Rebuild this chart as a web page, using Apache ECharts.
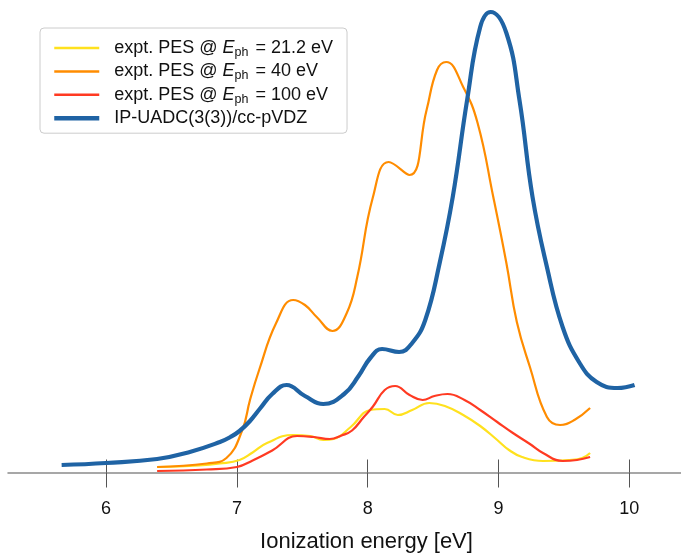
<!DOCTYPE html>
<html>
<head>
<meta charset="utf-8">
<script src="https://cdn.jsdelivr.net/npm/echarts@6/dist/echarts.min.js"></script>
<style>
html,body{margin:0;padding:0;background:#fff;}
#chart{width:681px;height:553px;}
</style>
</head>
<body>
<div id="chart"></div>
<script>
// Ionization energy (eV) and intensity (arbitrary units)
const seriesNames = [
  'expt. PES @ Eph = 21.2 eV',
  'expt. PES @ Eph = 40 eV',
  'expt. PES @ Eph = 100 eV',
  'IP-UADC(3(3))/cc-pVDZ'
];
const legendLabels = [
  '{f|expt. PES @ }{i|E}{s|ph}{n| = 21.2 eV}',
  '{f|expt. PES @ }{i|E}{s|ph}{n| = 40 eV}',
  '{f|expt. PES @ }{i|E}{s|ph}{n| = 100 eV}',
  '{f|IP-UADC(3(3))/cc-pVDZ}'
];
const xTicks = [6, 7, 8, 9, 10];

const yellowX = [6.39,6.71,6.87,7.02,7.12,7.23,7.43,7.56,7.66,7.74,7.87,8.02,8.13,8.23,8.34,8.47,8.59,8.73,8.86,8.99,9.08,9.18,9.34,9.54,9.64,9.70];
const yellowY = [5.5,7.0,9.0,12.5,20.0,29.5,37.5,36.5,32.5,33.5,45.5,62.5,63.5,57.5,62.5,69.5,66.5,57.5,46.5,32.5,22.5,15.5,11.5,12.5,14.5,19.5];

const orangeX = [6.39,6.77,6.92,7.04,7.10,7.17,7.30,7.43,7.52,7.61,7.73,7.84,7.92,8.04,8.16,8.32,8.45,8.53,8.60,8.73,8.84,8.96,9.06,9.14,9.24,9.37,9.47,9.58,9.70];
const orangeY = [5.5,9.0,14.5,42.0,72.5,102.5,149.5,172.5,167.5,155.5,141.5,159.5,195.5,275.5,310.5,297.5,362.5,402.5,410.5,385.5,349.5,275.5,209.5,150.5,105.5,55.5,47.5,52.5,64.5];

const redX = [6.39,6.77,7.00,7.12,7.27,7.46,7.59,7.71,7.80,7.88,7.97,8.04,8.13,8.21,8.32,8.42,8.51,8.61,8.74,8.86,8.99,9.11,9.24,9.34,9.49,9.60,9.70];
const redY = [1.5,3.0,5.5,12.0,22.0,36.5,35.5,33.5,37.0,42.0,55.5,66.0,82.5,86.5,77.5,72.5,76.5,78.5,72.5,62.5,50.5,39.5,28.5,19.5,11.5,12.5,15.5];

const blueX = [5.66,6.00,6.39,6.64,6.87,6.95,7.02,7.10,7.18,7.27,7.38,7.52,7.66,7.82,7.93,8.02,8.11,8.24,8.34,8.44,8.55,8.65,8.76,8.86,8.94,9.06,9.16,9.26,9.37,9.49,9.62,9.75,9.91,10.04];
const blueY = [7.5,9.5,13.5,20.5,30.5,35.5,41.5,51.5,64.5,78.5,87.5,76.5,68.5,78.5,96.5,114.5,123.5,120.5,129.5,152.5,209.5,275.5,372.5,445.5,460.5,439.5,372.5,275.5,205.5,145.5,109.5,90.5,84.5,87.5];

function pairs(xs, ys){ return xs.map((x,i)=>[x, ys[i]]); }

const FONT = 'Liberation Sans';
const chart = echarts.init(document.getElementById('chart'), null, {renderer:'canvas'});

const styles = [
  {color:'#ffe11e', width:2.2},
  {color:'#ff8c00', width:2.2},
  {color:'#ff3a22', width:2.2},
  {color:'#1f63a4', width:4.2}
];
const legendWidths = [2.5, 2.5, 2.5, 4.5];
const datas = [pairs(yellowX,yellowY), pairs(orangeX,orangeY), pairs(redX,redY), pairs(blueX,blueY)];

const xMin = 5.25, xMax = 10.395;
const TXT = '#111';

chart.setOption({
  animation:false,
  backgroundColor:'#fff',
  grid:{left:8, right:0, top:0, bottom:80.5, containLabel:false, outerBoundsMode:'none'},
  legend:{
    left:40, top:28,
    orient:'vertical',
    backgroundColor:'#fff',
    borderColor:'#cccccc',
    borderWidth:1,
    borderRadius:4,
    padding:[11,14,6,12],
    itemWidth:45,
    itemHeight:14,
    itemGap:3.4,
    itemStyle:{opacity:0},
    data:seriesNames.map((n,k)=>({name:n, lineStyle:{width:legendWidths[k], color:styles[k].color}})),
    formatter:function(name){ return legendLabels[seriesNames.indexOf(name)]; },
    textStyle:{
      fontFamily:FONT, fontSize:18, color:TXT,
      rich:{
        f:{fontFamily:FONT, fontSize:18, color:TXT, lineHeight:22, padding:[0,0,0,10]},
        n:{fontFamily:FONT, fontSize:18, color:TXT, lineHeight:22},
        i:{fontFamily:FONT, fontSize:18, color:TXT, fontStyle:'italic', lineHeight:22},
        s:{fontFamily:FONT, fontSize:12.5, color:TXT, lineHeight:13, verticalAlign:'bottom', padding:[0,2,0,0]}
      }
    }
  },
  xAxis:[
    {
      type:'value', min:xMin, max:xMax, position:'bottom',
      splitLine:{show:false},
      axisLine:{show:true, lineStyle:{color:'#8a8a8a', width:1.5}},
      axisTick:{show:true, inside:true, length:13, lineStyle:{color:'#555', width:1}, customValues:xTicks},
      axisLabel:{show:true, margin:28, fontFamily:FONT, fontSize:18, color:TXT, customValues:xTicks},
      name:'Ionization energy [eV]',
      nameLocation:'middle', nameGap:58,
      nameTextStyle:{fontFamily:FONT, fontSize:22, color:TXT, padding:[0,0,0,44]}
    },
    {
      type:'value', min:xMin, max:xMax, position:'bottom',
      splitLine:{show:false},
      axisLine:{show:false},
      axisTick:{show:true, inside:false, length:15, lineStyle:{color:'#555', width:1}, customValues:xTicks},
      axisLabel:{show:false}
    }
  ],
  yAxis:{type:'value', min:0, max:472.5, show:false, splitLine:{show:false}},
  series: seriesNames.map((n,k)=>({
    name:n, type:'line', data:datas[k], smooth:0.45, symbol:'none', showSymbol:false,
    xAxisIndex:0, z:2+k,
    lineStyle:{color:styles[k].color, width:styles[k].width},
    itemStyle:{color:styles[k].color}
  }))
});
</script>
</body>
</html>
